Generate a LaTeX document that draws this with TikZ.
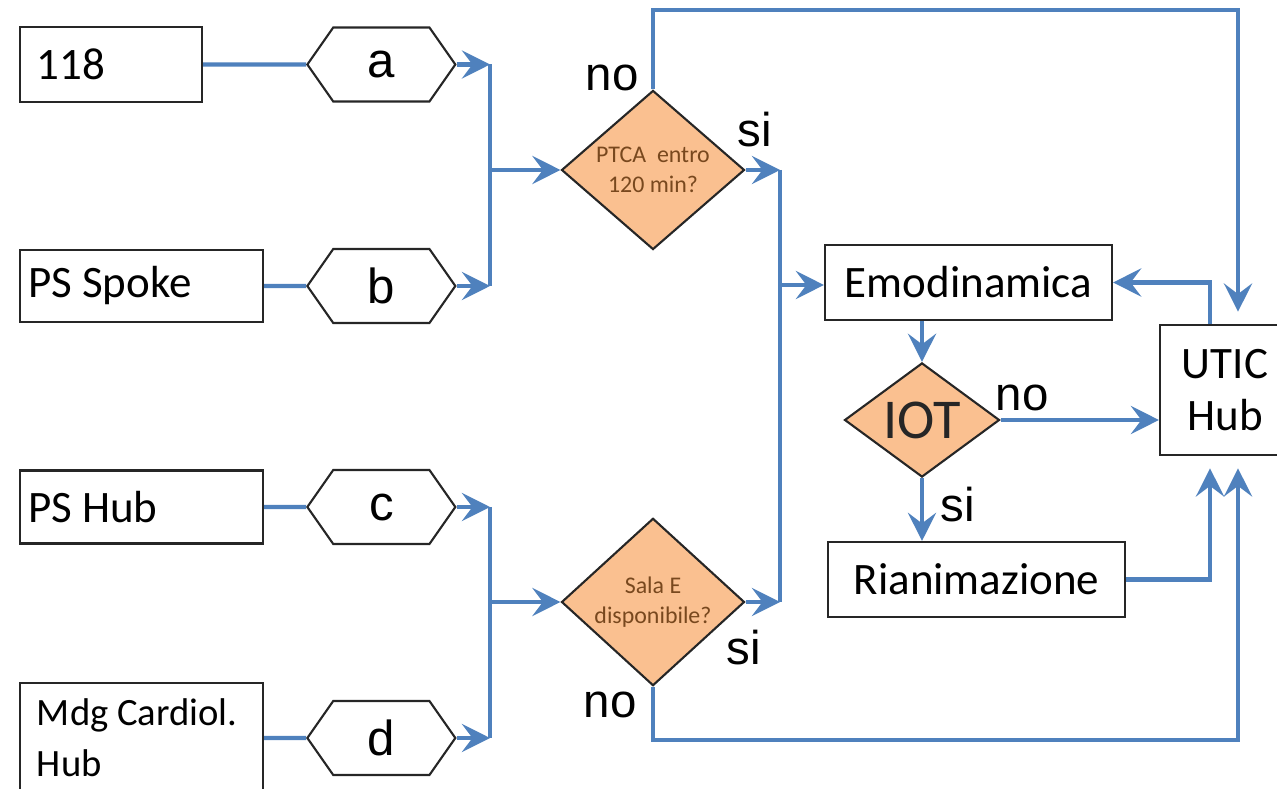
\documentclass[tikz,border=0pt]{standalone}
\usepackage{fontspec}
\setmainfont{Carlito}
\newfontfamily\arialfont{Liberation Sans}
\usetikzlibrary{shapes.geometric,shapes.symbols,arrows.meta,positioning}
\definecolor{flowblue}{RGB}{79,129,189}
\definecolor{decfill}{RGB}{250,192,144}
\definecolor{dectext}{RGB}{120,72,30}

\begin{document}
\begin{tikzpicture}[>={Stealth[length=8pt,width=8pt,inset=3pt]},
    flow/.style={color=flowblue,line width=1.2pt},
    src node/.style={draw=black!85,line width=0.6pt,align=flush left,inner xsep=0.17cm,font=\fontsize{12.8}{15}\selectfont},
    box node/.style={draw=black!85,line width=0.6pt,minimum height=0.75cm,font=\fontsize{12.8}{15}\selectfont},
    hex node/.style={signal,signal to=east and west,signal pointer angle=110,draw=black!85,line width=0.6pt,minimum width=1.48cm,minimum height=0.74cm,inner sep=0pt,font=\arialfont\fontsize{14}{16}\selectfont},
    dec node/.style={diamond,draw=black!85,line width=0.6pt,fill=decfill,inner sep=0pt,align=center,text=dectext,font=\fontsize{6.8}{8.5}\selectfont},
    lab/.style={font=\arialfont\fontsize{13.5}{16}\selectfont}]

    \clip (0,0) rectangle (12.77,-7.89);

    % sorgenti
    \node[src node,text width=1.48cm,minimum height=0.75cm] (n118) at (1.11,-0.645) {118};
    \node[src node,text width=2.27cm,inner xsep=0.08cm,minimum height=0.72cm] (spoke) at (1.415,-2.86) {PS Spoke};
    \node[src node,text width=2.27cm,inner xsep=0.08cm,minimum height=0.73cm] (pshub) at (1.415,-5.07) {PS Hub};
    \node[src node,text width=2.09cm,minimum height=1.1cm,font=\fontsize{11}{14.5}\selectfont] (mdg) at (1.415,-7.38) {Mdg Cardiol.\\Hub};

    \node[hex node] (hexa)[right=1.03cm of n118] {a};
    \node[hex node] (hexb)[right=0.42cm of spoke] {b};
    \node[hex node] (hexc)[right=0.42cm of pshub] {c};
    \node[hex node] (hexd)[right=0.42cm of mdg] {d};

    % decisioni
    \node[dec node,minimum width=1.83cm,minimum height=1.3cm] (ptca) at (6.53,-1.70) {PTCA\ \ entro\\120 min?};
    \node[dec node,minimum width=1.83cm,minimum height=1.27cm] (sala) at (6.53,-6.02) {Sala E\\disponibile?};
    \node[dec node,minimum width=1.55cm,minimum height=1.1cm,text=black!85,font=\fontsize{16}{19}\selectfont] (iot) at (9.22,-4.20) {IOT};

    \node[box node,minimum width=2.87cm] (emo) at (9.685,-2.825) {Emodinamica};
    \node[box node,minimum width=2.97cm] (rian) at (9.765,-5.795) {Rianimazione};
    \node[box node,minimum width=1.3cm,minimum height=1.3cm,align=center] (utic) at (12.25,-3.9) {UTIC\\Hub};

    \coordinate (jl1) at (4.9,-1.70);
    \coordinate (jl2) at (4.9,-6.02);
    \coordinate (jr) at (7.8,-2.85);
    \coordinate (toprow) at (9,-0.10);
    \coordinate (botrow) at (9,-7.40);

    % frecce
    \draw[flow] (n118) -- (hexa);
    \draw[flow] (spoke) -- (hexb);
    \draw[flow] (pshub) -- (hexc);
    \draw[flow] (mdg.east |- hexd) -- (hexd);
    \draw[flow] (hexa.east -| jl1) -- (hexb.east -| jl1);
    \draw[flow] (hexc.east -| jl2) -- (hexd.east -| jl2);
    \draw[flow] (ptca.east -| jr) -- (sala.east -| jr);
    \path[flow,every edge/.style={draw=flowblue,->}]
        (hexa.east) edge (hexa.east -| jl1)
        (hexb.east) edge (hexb.east -| jl1)
        (hexc.east) edge (hexc.east -| jl2)
        (hexd.east) edge (hexd.east -| jl2)
        (jl1) edge (ptca)
        (jl2) edge (sala)
        (ptca.east) edge (ptca.east -| jr)
        (sala.east) edge (sala.east -| jr)
        (jr) edge (jr -| emo.west)
        (iot.north |- emo.south) edge (iot)
        (iot) edge (iot.south |- rian.north)
        (iot.east) edge (iot.east -| utic.west)
        ;
    \draw[flow,->] ([xshift=-0.15cm]utic.north) |- (emo.east);
    \draw[flow,->,shorten >=3.5pt] (rian.east) -| ([xshift=-0.15cm]utic.south);
    \draw[flow,->,shorten >=3.5pt] (ptca.north) |- (toprow) -| ([xshift=0.13cm]utic.north);
    \draw[flow,->,shorten >=3.5pt] (sala.south) |- (botrow) -| ([xshift=0.13cm]utic.south);

    % etichette
    \node[lab] (no1) at (6.12,-0.78) {no};
    \node[lab] (si1) at (7.55,-1.30) {si};
    \node[lab] (no2) at (10.22,-3.98) {no};
    \node[lab] (si2) at (9.58,-5.05) {si};
    \node[lab] (si3) at (7.44,-6.48) {si};
    \node[lab] (no3) at (6.10,-7.05) {no};
\end{tikzpicture}
\end{document}
